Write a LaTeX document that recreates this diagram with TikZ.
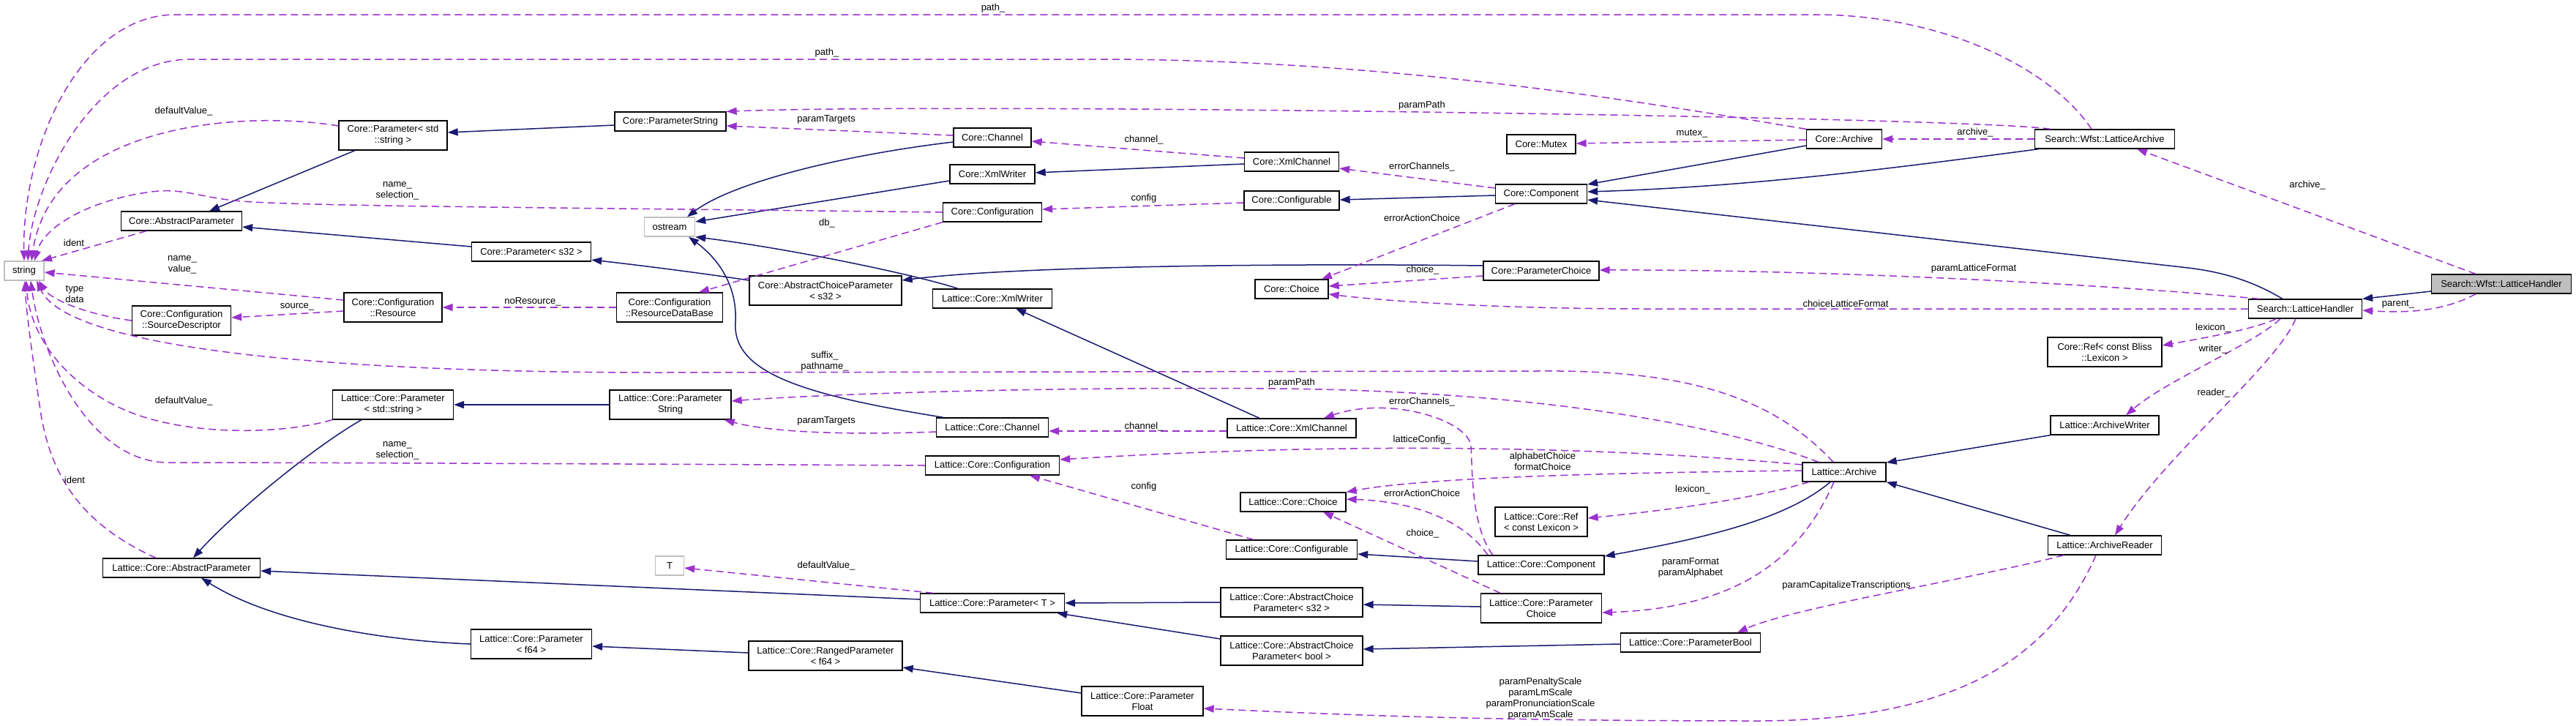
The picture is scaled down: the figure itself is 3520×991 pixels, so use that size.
\documentclass[tikz,border=0pt]{standalone}
\usepackage{fontspec}
\setmainfont{Liberation Sans}
\usetikzlibrary{arrows.meta}
\definecolor{navy}{RGB}{25,25,112}
\definecolor{orchid}{RGB}{154,50,205}
\definecolor{lgray}{RGB}{191,191,191}
\tikzset{
  cnode/.style={rectangle,draw=black,line width=1.3pt,fill=white,minimum height=26pt,inner sep=2pt,align=center,font=\fontsize{13}{15}\selectfont},
  gnode/.style={cnode,draw=lgray},
  hnode/.style={cnode,fill=lgray},
  ie/.style={-{Triangle[length=14pt,width=10pt]},line width=1.5pt,draw=navy},
  ue/.style={-{Triangle[length=14pt,width=10pt]},line width=1.5pt,draw=orchid,dash pattern=on 10pt off 6pt},
  lbl/.style={align=center,inner sep=0pt,font=\fontsize{13}{15}\selectfont}
}

\begin{document}
\begin{tikzpicture}[x=1pt,y=-1pt]
\path[fill=white,use as bounding box] (0,0) rectangle (3520,991);
% external types
\node[gnode,minimum width=54pt] (str) at (33,370) {string};
\node[gnode,minimum width=69pt] (ost) at (915,310) {ostream};
\node[gnode,minimum width=39pt] (tt) at (915,773) {T};
% Core
\node[cnode,minimum width=165pt] (cap) at (248,302) {Core::AbstractParameter};
\node[cnode,minimum width=148pt,minimum height=40pt] (cpstd) at (537,185) {Core::Parameter< std\\::string >};
\node[cnode,minimum width=152pt] (cps) at (916,166) {Core::ParameterString};
\node[cnode,minimum width=163pt] (cp32) at (726,344) {Core::Parameter< s32 >};
\node[cnode,minimum width=135pt,minimum height=40pt] (csd) at (248,438) {Core::Configuration\\::SourceDescriptor};
\node[cnode,minimum width=134pt,minimum height=40pt] (cres) at (537,420) {Core::Configuration\\::Resource};
\node[cnode,minimum width=145pt,minimum height=40pt] (crdb) at (915,420) {Core::Configuration\\::ResourceDataBase};
\node[cnode,minimum width=106pt] (cch) at (1356,188) {Core::Channel};
\node[cnode,minimum width=116pt] (cxw) at (1356,238) {Core::XmlWriter};
\node[cnode,minimum width=135pt] (ccfg) at (1356,290) {Core::Configuration};
\node[cnode,minimum width=208pt,minimum height=40pt] (cacp) at (1128,397) {Core::AbstractChoiceParameter\\< s32 >};
\node[cnode,minimum width=129pt] (cxc) at (1765,221) {Core::XmlChannel};
\node[cnode,minimum width=130pt] (ccf) at (1765,274) {Core::Configurable};
\node[cnode,minimum width=100pt] (cchoice) at (1765,395) {Core::Choice};
\node[cnode,minimum width=94pt] (cmx) at (2106,197) {Core::Mutex};
\node[cnode,minimum width=125pt] (ccomp) at (2106,265) {Core::Component};
\node[cnode,minimum width=158pt] (cpc) at (2106,370) {Core::ParameterChoice};
\node[cnode,minimum width=103pt] (carch) at (2520,190) {Core::Archive};
\node[cnode,minimum width=156pt,minimum height=40pt] (cref) at (2876,481) {Core::Ref< const Bliss\\::Lexicon >};
% Search
\node[cnode,minimum width=191pt] (wla) at (2876,190) {Search::Wfst::LatticeArchive};
\node[cnode,minimum width=155pt] (slh) at (3150,422) {Search::LatticeHandler};
\node[hnode,minimum width=191pt] (wlh) at (3418,388) {Search::Wfst::LatticeHandler};
% Lattice
\node[cnode,minimum width=163pt] (lxw) at (1356,408) {Lattice::Core::XmlWriter};
\node[cnode,minimum width=165pt,minimum height=40pt] (lpstd) at (537,553) {Lattice::Core::Parameter\\< std::string >};
\node[cnode,minimum width=166pt,minimum height=40pt] (lps) at (916,553) {Lattice::Core::Parameter\\String};
\node[cnode,minimum width=153pt] (lch) at (1356,584) {Lattice::Core::Channel};
\node[cnode,minimum width=176pt] (lxc) at (1765,585) {Lattice::Core::XmlChannel};
\node[cnode,minimum width=183pt] (lcfg) at (1356,636) {Lattice::Core::Configuration};
\node[cnode,minimum width=114pt] (larch) at (2520,645) {Lattice::Archive};
\node[cnode,minimum width=144pt] (lchoice) at (1767,686) {Lattice::Core::Choice};
\node[cnode,minimum width=179pt] (lcf) at (1765,751) {Lattice::Core::Configurable};
\node[cnode,minimum width=126pt,minimum height=40pt] (lref) at (2106,713) {Lattice::Core::Ref\\< const Lexicon >};
\node[cnode,minimum width=172pt] (lcomp) at (2106,772) {Lattice::Core::Component};
\node[cnode,minimum width=194pt,minimum height=40pt] (lacps) at (1765,823) {Lattice::Core::AbstractChoice\\Parameter< s32 >};
\node[cnode,minimum width=165pt,minimum height=40pt] (lpc) at (2106,831) {Lattice::Core::Parameter\\Choice};
\node[cnode,minimum width=194pt,minimum height=40pt] (lacpb) at (1765,889) {Lattice::Core::AbstractChoice\\Parameter< bool >};
\node[cnode,minimum width=191pt] (lpb) at (2310,878) {Lattice::Core::ParameterBool};
\node[cnode,minimum width=148pt] (law) at (2876,581) {Lattice::ArchiveWriter};
\node[cnode,minimum width=155pt] (lar) at (2876,745) {Lattice::ArchiveReader};
\node[cnode,minimum width=215pt] (lap) at (248,776) {Lattice::Core::AbstractParameter};
\node[cnode,minimum width=165pt,minimum height=40pt] (lpf64) at (726,880) {Lattice::Core::Parameter\\< f64 >};
\node[cnode,minimum width=197pt] (lpt) at (1356,824) {Lattice::Core::Parameter< T >};
\node[cnode,minimum width=210pt,minimum height=40pt] (lrp) at (1128,896) {Lattice::Core::RangedParameter\\< f64 >};
\node[cnode,minimum width=166pt,minimum height=40pt] (lpfl) at (1561,958) {Lattice::Core::Parameter\\Float};

% inheritance
\draw[ie] ([xshift=-52pt]cpstd.south) -- ([xshift=38pt]cap.north);
\draw[ie] ([yshift=-5pt]cps.west) -- ([yshift=4pt]cpstd.east);
\draw[ie] ([yshift=7pt]cp32.west) -- ([yshift=-8pt]cap.east);
\draw[ie] ([yshift=14pt]cacp.west) .. controls (950,372) and (870,362) .. ([yshift=-11pt]cp32.east);
\draw[ie] ([yshift=-6pt]cch.west) .. controls (1150,212) and (1000,250) .. ([xshift=24pt]ost.north);
\draw[ie] ([yshift=-9pt]cxw.west) -- ([yshift=7pt]ost.east);
\draw[ie] ([yshift=-3pt]cxc.west) -- ([yshift=2pt]cxw.east);
\draw[ie] ([xshift=-47pt]lxw.north) .. controls (1250,375) and (1080,340) .. (ost.south east);
\draw[ie] ([xshift=-67pt]lch.north) .. controls (1100,540) and (1000,510) .. (1005,440) .. controls (1008,380) and (970,345) .. ([xshift=26pt]ost.south);
\draw[ie] ([xshift=-44pt]lxc.north) -- ([xshift=32pt]lxw.south);
\draw[ie] ([yshift=-2pt]ccomp.west) -- ([yshift=1pt]ccf.east);
\draw[ie] ([yshift=-9pt]carch.west) -- ([yshift=13pt]ccomp.east);
\draw[ie] ([xshift=6pt]wla.south west) .. controls (2600,228) and (2400,255) .. ([yshift=3pt]ccomp.east);
\draw[ie] ([xshift=-31pt]slh.north) .. controls (3080,385) and (3040,372) .. (2990,366) -- ([yshift=-8pt]ccomp.east);
\draw[ie] ([yshift=7pt]cpc.west) .. controls (1800,360) and (1400,362) .. ([yshift=14pt]cacp.east);
\draw[ie] ([yshift=-10pt]wlh.west) -- (slh.north east);
\draw[ie] (law.south west) -- ([yshift=13pt]larch.east);
\draw[ie] ([xshift=-47pt]lar.north) -- (larch.south east);
\draw[ie] ([xshift=-19pt]larch.south) .. controls (2440,710) and (2330,735) .. ([yshift=12pt]lcomp.east);
\draw[ie] ([yshift=5pt]lcomp.west) -- ([yshift=-6pt]lcf.east);
\draw[ie] ([yshift=2pt]lpc.west) -- ([yshift=-3pt]lacps.east);
\draw[ie] ([yshift=-2pt]lpb.west) -- ([yshift=2pt]lacpb.east);
\draw[ie] (lacps.west) -- (lpt.east);
\draw[ie] ([yshift=16pt]lacpb.west) -- ([xshift=-11pt]lpt.south east);
\draw[ie] ([yshift=5pt]lpt.west) -- ([yshift=-4pt]lap.east);
\draw[ie] ([xshift=-43pt]lpstd.south) .. controls (430,610) and (320,700) .. ([xshift=16pt]lap.north);
\draw[ie] (lpf64.west) .. controls (520,875) and (370,850) .. ([xshift=27pt]lap.south);
\draw[ie] ([yshift=4pt]lrp.west) -- ([yshift=-3pt]lpf64.east);
\draw[ie] ([yshift=11pt]lpfl.west) -- ([yshift=-16pt]lrp.east);
\draw[ie] (lps.west) -- (lpstd.east);

% usage, upper half
\draw[ue] ([xshift=-48pt]cap.south) -- ([xshift=24pt]str.north);
\node[lbl] (lid1) at (101,332) {ident};
\draw[ue] ([yshift=13pt]cpstd.west) .. controls (330,150) and (70,170) .. ([xshift=10pt]str.north);
\node[lbl] (ldef1) at (251,152) {defaultValue\_};
\draw[ue] (ccfg.west) .. controls (800,284) and (420,282) .. (330,275) .. controls (270,270) and (250,255) .. (200,263) .. controls (120,275) and (60,310) .. ([xshift=14pt]str.north);
\node[lbl] (lnsel1) at (543,261) {name\_\\selection\_};
\draw[ue] (carch.north west) .. controls (2250,140) and (1900,81) .. (1500,81) -- (260,81) .. controls (130,81) and (45,250) .. ([xshift=5pt]str.north);
\node[lbl] (lpath2) at (1130,72) {path\_};
\draw[ue] ([xshift=-18pt]wla.north) .. controls (2800,90) and (2650,20) .. (2480,20) -- (240,20) .. controls (110,20) and (30,200) .. (str.north);
\node[lbl] (lpath1) at (1357,11) {path\_};
\draw[ue] ([xshift=-74pt]wla.north) .. controls (2700,160) and (1300,140) .. (cps.north east);
\node[lbl] (lpp1) at (1943,144) {paramPath};
\draw[ue] ([yshift=3pt]cch.west) -- ([yshift=-6pt]cps.east);
\node[lbl] (lpt1) at (1129,163) {paramTargets};
\draw[ue] ([yshift=5pt]cxc.west) -- ([yshift=-5pt]cch.east);
\node[lbl] (lchan1) at (1563,191) {channel\_};
\draw[ue] ([yshift=8pt]ccomp.west) -- ([yshift=-9pt]cxc.east);
\node[lbl] (lerr1) at (1943,228) {errorChannels\_};
\draw[ue] ([yshift=-3pt]ccf.west) -- ([yshift=4pt]ccfg.east);
\node[lbl] (lcfg1) at (1563,271) {config};
\draw[ue] (ccfg.south west) -- ([xshift=40pt]crdb.north);
\node[lbl] (ldb) at (1130,305) {db\_};
\draw[ue] (crdb.west) -- (cres.east);
\node[lbl] (lnores) at (728,412) {noResource\_};
\draw[ue] ([yshift=-5pt]cres.west) -- ([yshift=4pt]csd.east);
\node[lbl] (lsrc) at (406,419) {source\_};
\draw[ue] ([yshift=10pt]cres.west) -- ([yshift=-2pt]str.east);
\node[lbl] (lnval) at (249,362) {name\_\\value\_};
\draw[ue] (csd.west) .. controls (120,430) and (70,410) .. ([xshift=20pt]str.south);
\node[lbl] (ltype) at (102,402) {type\\data};
\draw[ue] ([yshift=-1pt]carch.west) -- ([yshift=1pt]cmx.east);
\node[lbl] (lmtx) at (2312,183) {mutex\_};
\draw[ue] (wla.west) -- (carch.east);
\node[lbl] (larc1) at (2699,181) {archive\_};
\draw[ue] ([xshift=-36pt]ccomp.south) -- ([xshift=41pt]cchoice.north);
\node[lbl] (leac1) at (1943,298) {errorActionChoice};
\draw[ue] ([yshift=-7pt]cpc.west) -- ([yshift=4pt]cchoice.east);
\node[lbl] (lcho1) at (1944,369) {choice\_};
\draw[ue] (slh.west) -- (2250,422) .. controls (2050,422) and (1900,412) .. ([yshift=-7pt]cchoice.east);
\node[lbl] (lclf) at (2522,415) {choiceLatticeFormat};
\draw[ue] ([xshift=-63pt]slh.north) .. controls (2900,390) and (2500,368) .. ([yshift=1pt]cpc.east);
\node[lbl] (lplf) at (2697,367) {paramLatticeFormat};
\draw[ue] ([xshift=-35pt]wlh.north) -- ([xshift=44pt]wla.south);
\node[lbl] (larc2) at (3153,253) {archive\_};
\draw[ue] ([xshift=-35pt]wlh.south) .. controls (3340,425) and (3290,428) .. ([yshift=-2pt]slh.east);
\node[lbl] (lpar) at (3277,416) {parent\_};
\draw[ue] ([xshift=-40pt]slh.south) .. controls (3080,450) and (3010,462) .. ([yshift=9pt]cref.east);
\node[lbl] (llex1) at (3024,448) {lexicon\_};
\draw[ue] ([xshift=-34pt]slh.south) .. controls (3080,470) and (2960,520) .. ([xshift=29pt]law.north);
\node[lbl] (lwri) at (3024,477) {writer\_};
\draw[ue] ([xshift=-13pt]slh.south) .. controls (3110,500) and (2960,620) .. ([xshift=14pt]lar.north);
\node[lbl] (lrea) at (3025,537) {reader\_};

% usage, lower half
\draw[ue] (lpstd.south west) .. controls (380,595) and (250,595) .. (170,560) .. controls (80,520) and (40,450) .. ([xshift=3pt]str.south);
\node[lbl] (ldef2) at (251,548) {defaultValue\_};
\draw[ue] (lcfg.west) .. controls (900,634) and (400,632) .. (230,632) .. controls (120,632) and (55,480) .. ([xshift=9pt]str.south);
\node[lbl] (lnsel2) at (543,616) {name\_\\selection\_};
\draw[ue] ([xshift=-35pt]lap.north) .. controls (120,720) and (70,660) .. (55,560) .. controls (45,490) and (36,430) .. ([xshift=1pt]str.south);
\node[lbl] (lid2) at (102,656) {ident};
\draw[ue] ([xshift=-15pt]larch.north) .. controls (2420,540) and (2300,505) .. (2100,507) -- (900,509) .. controls (400,509) and (90,470) .. ([xshift=17pt]str.south);
\node[lbl] (lsuf) at (1127,494) {suffix\_\\pathname\_};
\draw[ue] ([xshift=-35pt]larch.north) .. controls (2350,580) and (2100,535) .. (1750,531) .. controls (1400,528) and (1100,540) .. ([yshift=5pt]lps.east);
\node[lbl] (lpp2) at (1765,523) {paramPath};
\draw[ue] ([yshift=-6pt]lch.west) .. controls (1150,595) and (1050,590) .. ([xshift=-10pt]lps.south east);
\node[lbl] (lpt2) at (1129,575) {paramTargets};
\draw[ue] ([yshift=-4pt]lxc.west) -- ([yshift=-5pt]lch.east);
\node[lbl] (lchan2) at (1563,583) {channel\_};
\draw[ue] ([xshift=-66pt]lcomp.north) .. controls (2010,720) and (2012,640) .. (2010,610) .. controls (2008,575) and (1900,540) .. ([xshift=44pt]lxc.north);
\node[lbl] (lerr2) at (1943,549) {errorChannels\_};
\draw[ue] ([yshift=10pt]larch.west) .. controls (2250,615) and (1900,600) .. ([yshift=8pt]lcfg.east);
\node[lbl] (llc) at (1943,601) {latticeConfig\_};
\draw[ue] ([xshift=-52pt]lcf.north) -- ([xshift=51pt]lcfg.south);
\node[lbl] (lcfg2) at (1563,665) {config};
\draw[ue] ([yshift=2pt]larch.west) .. controls (2200,646) and (1950,652) .. (lchoice.north east);
\node[lbl] (lafc) at (2108,630) {alphabetChoice\\formatChoice};
\draw[ue] ([xshift=-73pt]lcomp.north) .. controls (2000,710) and (1930,685) .. ([yshift=4pt]lchoice.east);
\node[lbl] (leac2) at (1943,674) {errorActionChoice};
\draw[ue] ([xshift=-56pt]lpc.north) -- ([xshift=41pt]lchoice.south);
\node[lbl] (lcho2) at (1944,729) {choice\_};
\draw[ue] ([xshift=-48pt]larch.south) .. controls (2400,680) and (2300,695) .. ([yshift=5pt]lref.east);
\node[lbl] (llex2) at (2313,669) {lexicon\_};
\draw[ue] ([xshift=-14pt]larch.south) .. controls (2470,740) and (2400,830) .. ([yshift=-6pt]lpc.east);
\node[lbl] (lpfa) at (2310,776) {paramFormat\\paramAlphabet};
\draw[ue] ([xshift=-56pt]lar.south) .. controls (2700,790) and (2450,830) .. ([xshift=64pt]lpb.north);
\node[lbl] (lpct) at (2523,800) {paramCapitalizeTranscriptions};
\draw[ue] ([xshift=-12pt]lar.south) .. controls (2810,880) and (2700,985) .. (2400,985) .. controls (2000,985) and (1800,975) .. ([yshift=-10pt]lpfl.east);
\node[lbl] (lscl) at (2105,955) {paramPenaltyScale\\paramLmScale\\paramPronunciationScale\\paramAmScale};
\draw[ue] ([xshift=-81pt]lpt.north) -- ([yshift=-3pt]tt.east);
\node[lbl] (ldef3) at (1129,773) {defaultValue\_};
\end{tikzpicture}
\end{document}
